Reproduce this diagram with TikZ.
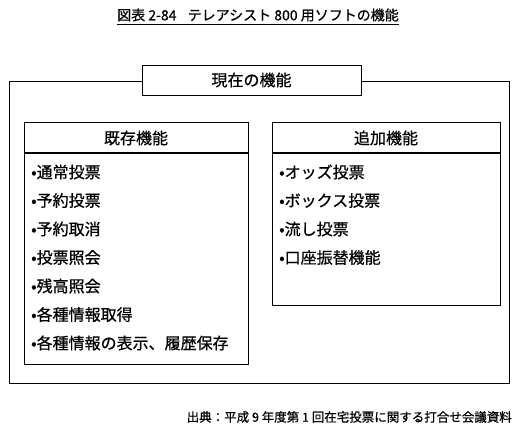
\documentclass[tikz,border=0pt]{standalone}
\usepackage{fontspec}
\setmainfont{Noto Sans CJK JP}[FakeBold=0.6]
\begin{document}
\begin{tikzpicture}[x=1pt,y=-1pt,
  boxline/.style={draw=black,line width=0.9pt},
  sepline/.style={draw=black,line width=2pt},
  itemtxt/.style={anchor=west,inner sep=0pt,font=\fontsize{16}{17}\selectfont},
  headtxt/.style={inner sep=0pt,font=\fontsize{16}{17}\selectfont},
  titletxt/.style={inner sep=0pt,font=\fontsize{14}{15}\selectfont},
  notetxt/.style={anchor=east,inner sep=0pt,font=\fontsize{12.5}{13}\selectfont}]
\useasboundingbox (0,0) rectangle (523,431);
% title
\node[titletxt] (title) at (258,15) {図表 2-84\hspace{0.8em}テレアシスト 800 用ソフトの機能};
\draw[line width=0.8pt] (title.south west)+(0,2.5) -- ([yshift=-2.5pt]title.south east);
% outer box
\draw[boxline] (9,81) rectangle (509,383);
\node[boxline,fill=white,minimum width=219pt,minimum height=30pt,inner sep=0pt,
  font=\fontsize{16}{17}\selectfont] (now) at (251.5,80) {現在の機能};
% left box
\draw[boxline] (24,122) rectangle (248,364);
\draw[sepline] (24,153) -- (248,153);
\node[headtxt] (lhead) at (136,138) {既存機能};
\foreach \t [count=\i from 0] in {通常投票,予約投票,予約取消,投票照会,残高照会,各種情報取得,各種情報の表示、履歴保存}{
  \node[itemtxt] (l\i) at (31,172+28.5*\i) {•\t};
}
% right box
\draw[boxline] (272,122) rectangle (500,305);
\draw[sepline] (272,153) -- (500,153);
\node[headtxt] (rhead) at (386,138) {追加機能};
\foreach \t [count=\i from 0] in {オッズ投票,ボックス投票,流し投票,口座振替機能}{
  \node[itemtxt] (r\i) at (279,172+28.5*\i) {•\t};
}
% source
\node[notetxt] (src) at (512,417) {出典：平成 9 年度第 1 回在宅投票に関する打合せ会議資料};
\end{tikzpicture}
\end{document}
